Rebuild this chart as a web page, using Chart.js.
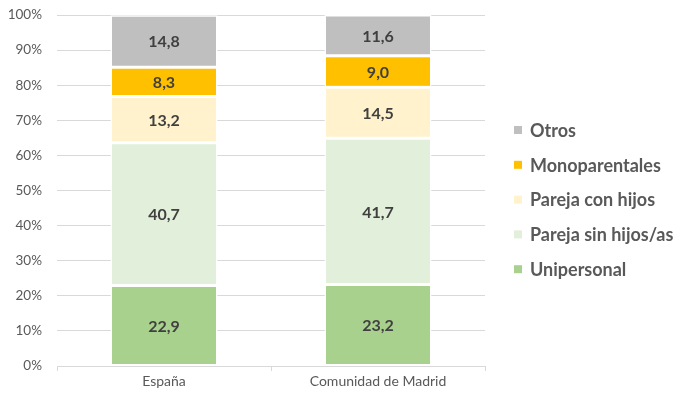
<!DOCTYPE html>
<html>
<head>
<meta charset="utf-8">
<script src="https://cdn.jsdelivr.net/npm/chart.js@4"></script>
<style>
html,body{margin:0;padding:0;background:#fff;}
#wrap{width:680px;height:393px;position:relative;}
</style>
</head>
<body>
<div id="wrap"><canvas id="c"></canvas></div>
<script>
const categories = ["España", "Comunidad de Madrid"];
const seriesNames = ["Unipersonal", "Pareja sin hijos/as", "Pareja con hijos", "Monoparentales", "Otros"];
const unipersonal = [22.9, 23.2];
const parejaSinHijos = [40.7, 41.7];
const parejaConHijos = [13.2, 14.5];
const monoparentales = [8.3, 9.0];
const otros = [14.8, 11.6];
const seriesColors = ["#a9d18e", "#e2efda", "#fff2cc", "#ffc000", "#bfbfbf"];
const yTicks = [0,10,20,30,40,50,60,70,80,90,100];

const FONT = "Lato, 'Open Sans', sans-serif";
const values = [unipersonal, parejaSinHijos, parejaConHijos, monoparentales, otros];

const labelPlugin = {
  id: 'valueLabels',
  afterDatasetsDraw(chart) {
    const ctx = chart.ctx;
    ctx.save();
    ctx.font = "bold 16px " + FONT;
    ctx.fillStyle = "#404040";
    ctx.textAlign = "center";
    ctx.textBaseline = "middle";
    chart.data.datasets.forEach((ds, i) => {
      const meta = chart.getDatasetMeta(i);
      meta.data.forEach((bar, j) => {
        const v = ds.data[j];
        const txt = v.toFixed(1).replace('.', ',');
        const y = (bar.y + bar.base) / 2;
        ctx.fillText(txt, bar.x, y + 1);
      });
    });
    ctx.restore();
  }
};

const legendPlugin = {
  id: 'customLegend',
  afterDraw(chart) {
    const ctx = chart.ctx;
    ctx.save();
    ctx.font = "bold 18px " + FONT;
    ctx.textBaseline = "middle";
    ctx.textAlign = "left";
    const n = chart.data.datasets.length;
    const x0 = 514, yStart = 130, step = 34.8;
    for (let k = 0; k < n; k++) {
      const i = n - 1 - k;
      const ds = chart.data.datasets[i];
      const y = yStart + k * step;
      ctx.fillStyle = ds.backgroundColor;
      ctx.fillRect(x0, y - 4, 8, 8);
      ctx.fillStyle = "#595959";
      ctx.fillText(ds.label, x0 + 16, y + 1);
    }
    ctx.restore();
  }
};

new Chart(document.getElementById('c'), {
  type: 'bar',
  data: {
    labels: categories,
    datasets: seriesNames.map((name, i) => ({
      label: name,
      data: values[i],
      backgroundColor: seriesColors[i],
      borderColor: "#ffffff",
      borderWidth: 1.5,
      borderSkipped: false,
      barPercentage: 0.5,
      categoryPercentage: 1.0
    }))
  },
  options: {
    responsive: true,
    maintainAspectRatio: false,
    animation: false,
    layout: { padding: { left: 0, right: 195, top: 15, bottom: 0 } },
    plugins: {
      legend: { display: false },
      tooltip: { enabled: false }
    },
    scales: {
      x: {
        stacked: true,
        grid: { display: true, drawOnChartArea: false, drawTicks: true, tickLength: 5, color: "#d9d9d9", offset: true },
        border: { display: true, color: "#d9d9d9" },
        ticks: { color: "#595959", font: { family: FONT, size: 14 }, padding: 2 },
        afterFit(scale) { scale.height = 27; }
      },
      y: {
        stacked: true,
        min: 0, max: 100,
        afterBuildTicks(scale) { scale.ticks = yTicks.map(v => ({ value: v })); },
        grid: { color: "#d9d9d9", drawTicks: false },
        border: { display: false },
        ticks: {
          color: "#595959",
          font: { family: FONT, size: 13.5 },
          padding: 15,
          callback: v => v + "%"
        },
        afterFit(scale) { scale.width = 57; scale.paddingTop = 0; scale.paddingBottom = 0; }
      }
    }
  },
  plugins: [labelPlugin, legendPlugin]
});
</script>
</body>
</html>
